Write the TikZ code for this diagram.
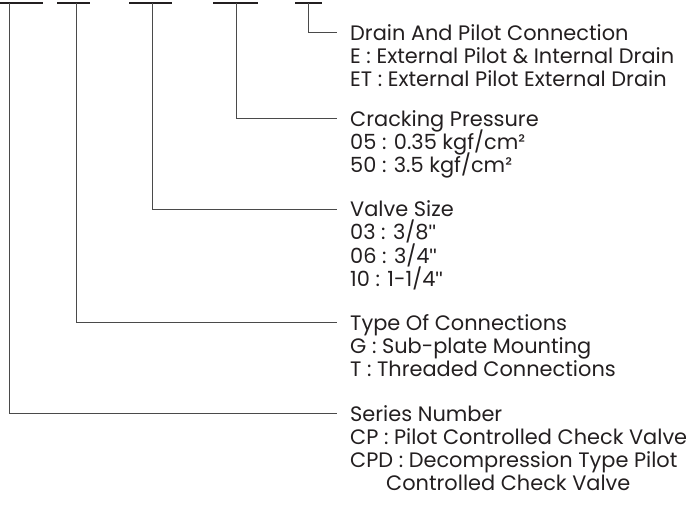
\documentclass[tikz,border=0pt]{standalone}
\usepackage{fontspec}
\setmainfont{Poppins}
\newfontfamily\quotefont{Liberation Sans}
\newcommand{\inch}{{\quotefont\symbol{34}}}
\definecolor{ink}{HTML}{231F20}
\definecolor{leadc}{HTML}{4A4A4A}
\begin{document}
\begin{tikzpicture}[x=1pt,y=-1pt,
  bar/.style={line width=2pt, draw=ink},
  lead/.style={line width=0.9pt, draw=leadc},
  txt/.style={anchor=base west, inner sep=0pt, font=\fontsize{20.9}{23}\selectfont, text=ink}]
\useasboundingbox (0,0) rectangle (696,507);
% bars
\draw[bar] (0,3.3) -- (43,3.3);
\draw[bar] (57,3.3) -- (90,3.3);
\draw[bar] (129,3.3) -- (172,3.3);
\draw[bar] (213,3.3) -- (258,3.3);
\draw[bar] (295,3.3) -- (322,3.3);
\coordinate (b1) at (9.3,3.3);
\coordinate (b2) at (76,3.3);
\coordinate (b3) at (152,3.3);
\coordinate (b4) at (236,3.3);
\coordinate (b5) at (308,3.3);
\coordinate (e5) at (337,32.3);
\coordinate (e4) at (337,118.3);
\coordinate (e3) at (337,209);
\coordinate (e2) at (337,322.7);
\coordinate (e1) at (337,413.3);
\draw[lead] (b5) |- (e5);
\draw[lead] (b4) |- (e4);
\draw[lead] (b3) |- (e3);
\draw[lead] (b2) |- (e2);
\draw[lead] (b1) |- (e1);
% group 5
\node[txt] (h5) at (350,40) {Drain And Pilot Connection};
\node[txt] (h5a) at (350,63.2) {E : External Pilot \& Internal Drain};
\node[txt] (h5b) at (350,86.4) {ET : External Pilot External Drain};
% group 4
\node[txt] (h4) at (350,126) {Cracking Pressure};
\node[txt] (h4a) at (350,149.2) {05 : 0.35 kgf/cm²};
\node[txt] (h4b) at (350,172.4) {50 : 3.5 kgf/cm²};
% group 3
\node[txt] (h3) at (350,216.7) {Valve Size};
\node[txt] (h3a) at (350,239.9) {03 : 3/8\inch};
\node[txt] (h3b) at (350,263.1) {06 : 3/4\inch};
\node[txt] (h3c) at (350,286.3) {10 : 1-1/4\inch};
% group 2
\node[txt] (h2) at (350,330.4) {Type Of Connections};
\node[txt] (h2a) at (350,353.6) {G : Sub-plate Mounting};
\node[txt] (h2b) at (350,376.8) {T : Threaded Connections};
% group 1
\node[txt] (h1) at (350,421) {Series Number};
\node[txt] (h1a) at (350,444.2) {CP : Pilot Controlled Check Valve};
\node[txt] (h1b) at (350,467.4) {CPD : Decompression Type Pilot};
\node[txt] (h1c) at (386,490.6) {Controlled Check Valve};
\end{tikzpicture}
\end{document}
